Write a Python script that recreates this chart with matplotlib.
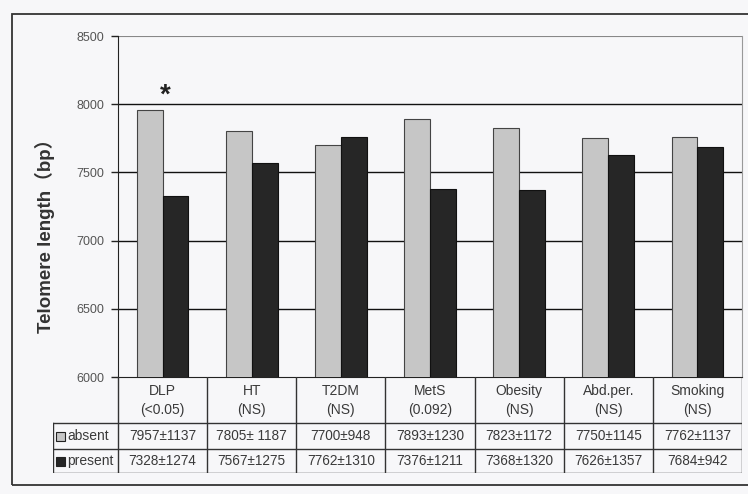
import numpy as np
import matplotlib
matplotlib.use("Agg")
from matplotlib import pyplot as plt
from matplotlib.patches import Rectangle

categories = ["DLP", "HT", "T2DM", "MetS", "Obesity", "Abd.per.", "Smoking"]
pvalues = ["(<0.05)", "(NS)", "(NS)", "(0.092)", "(NS)", "(NS)", "(NS)"]
absent_mean = [7957, 7805, 7700, 7893, 7823, 7750, 7762]
absent_sd = [1137, 1187, 948, 1230, 1172, 1145, 1137]
present_mean = [7328, 7567, 7762, 7376, 7368, 7626, 7684]
present_sd = [1274, 1275, 1310, 1211, 1320, 1357, 942]
absent_cells = ["7957±1137", "7805± 1187", "7700±948", "7893±1230",
                "7823±1172", "7750±1145", "7762±1137"]
present_cells = ["7328±1274", "7567±1275", "7762±1310", "7376±1211",
                 "7368±1320", "7626±1357", "7684±942"]
series_names = ["absent", "present"]
yticks = [6000, 6500, 7000, 7500, 8000, 8500]

plt.rcParams['font.family'] = ['Liberation Sans', 'DejaVu Sans']

W, H = 748, 494
bg = '#f7f7f9'
light = '#c6c6c6'
dark = '#262626'
txt = '#3a3a3a'

fig = plt.figure(figsize=(W / 100, H / 100), dpi=100, facecolor=bg)

def fx(px):
    return px / W

def fy(py):
    return 1 - py / H

# outer frame
fig.add_artist(Rectangle((fx(12), fy(485)), fx(760) - fx(12), fy(14) - fy(485),
                         transform=fig.transFigure, fill=False,
                         edgecolor='#333333', lw=1.3))

left, right, top, bottom = 118, 742, 36, 377
ax = fig.add_axes([fx(left), fy(bottom), fx(right) - fx(left), fy(top) - fy(bottom)])
ax.set_facecolor(bg)

x = np.arange(len(categories))
bw = 0.29
ax.bar(x - bw / 2, absent_mean, bw, color=light, edgecolor='#444444', lw=0.8, zorder=3)
ax.bar(x + bw / 2, present_mean, bw, color=dark, edgecolor='#111111', lw=0.8, zorder=3)

ax.set_xlim(-0.5, len(categories) - 0.5)
ax.set_ylim(6000, 8500)
ax.set_yticks(yticks)
ax.set_yticklabels([str(v) for v in yticks], fontsize=9, color='#555555')
ax.tick_params(axis='y', length=5, width=1, color='#222222', pad=5)
ax.set_xticks([])
for v in yticks[1:-1]:
    ax.axhline(v, color='#111111', lw=1.0, zorder=1)
ax.axhline(8500, color='#888888', lw=0.8, zorder=1)
ax.spines['top'].set_visible(False)
ax.spines['right'].set_color('#999999')
ax.spines['right'].set_linewidth(0.8)
ax.spines['left'].set_color('#222222')
ax.spines['bottom'].set_color('#222222')

# significance mark over DLP
ax.text(0.03, 8060, "*", ha='center', va='center', fontsize=20, fontweight='bold',
        color='#222222')

fig.text(fx(45), fy(231), "Telomere length（bp）", rotation=90, ha='center', va='center',
         fontsize=13.5, fontweight='bold', color='#333333',
         family=['Liberation Sans', 'Noto Sans CJK JP'])

# table below the axis
tab_left = 53
cat_w = (right - left) / len(categories)
ta = fig.add_axes([fx(tab_left), fy(473), fx(right) - fx(tab_left), fy(377) - fy(473)])
ta.set_xlim(-0.5 - (left - tab_left) / cat_w, len(categories) - 0.5)
ta.set_ylim(473, 377)
ta.axis('off')
ta.patch.set_alpha(0)

rows = [377, 423, 449, 473]
lx = -0.5 - (left - tab_left) / cat_w
lc = '#333333'
ta.plot([lx, 6.5], [rows[1], rows[1]], color=lc, lw=1)
ta.plot([lx, 6.5], [rows[2], rows[2]], color=lc, lw=1)
ta.plot([lx, 6.5], [rows[3], rows[3]], color=lc, lw=1)
ta.plot([lx, lx], [rows[1], rows[3]], color=lc, lw=1)
for b in np.arange(len(categories) + 1) - 0.5:
    ta.plot([b, b], [rows[0], rows[3]], color=lc, lw=1)

for i, c in enumerate(categories):
    ta.text(i, 391, c, ha='center', va='center', fontsize=10, color=txt)
    ta.text(i, 410, pvalues[i], ha='center', va='center', fontsize=10, color=txt)
    ta.text(i, (rows[1] + rows[2]) / 2, absent_cells[i], ha='center', va='center',
            fontsize=9.8, color=txt)
    ta.text(i, (rows[2] + rows[3]) / 2, present_cells[i], ha='center', va='center',
            fontsize=9.8, color=txt)

sq = 9 / cat_w
for r, name, col in [(0, series_names[0], light), (1, series_names[1], dark)]:
    yc = (rows[1 + r] + rows[2 + r]) / 2
    ta.add_patch(Rectangle((lx + 3 / cat_w, yc - 4.5), sq, 9, facecolor=col,
                           edgecolor='#222222', lw=0.8))
    ta.text(lx + 14 / cat_w, yc, name, ha='left', va='center', fontsize=10, color=txt)

fig.savefig("out.png", dpi=100, facecolor=bg)
